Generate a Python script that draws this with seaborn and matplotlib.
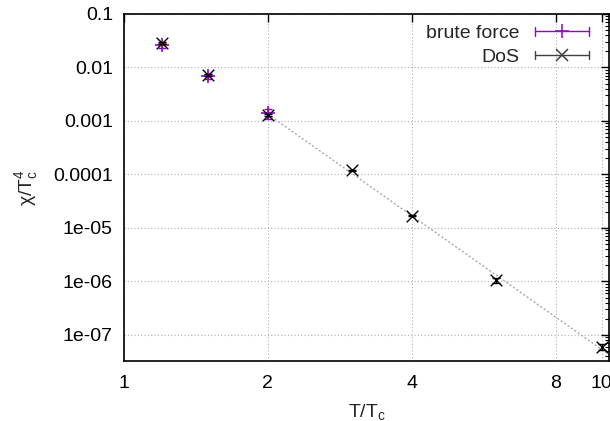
import numpy as np
import pandas as pd
import matplotlib
matplotlib.use("Agg")
import matplotlib.pyplot as plt
import seaborn as sns
from matplotlib.ticker import FixedLocator, NullLocator, LogLocator, FixedFormatter
from matplotlib.lines import Line2D
from matplotlib.legend_handler import HandlerBase

# data
bf_T = [1.2, 1.5, 2.0]
bf_chi = [0.026, 0.0068, 0.00138]
bf_err = [0.003, 0.0008, 0.0003]

dos_T = [1.2, 1.5, 2.0, 3.0, 4.0, 6.0, 10.0]
dos_chi = [0.029, 0.0071, 0.00130, 1.19e-4, 1.70e-5, 1.05e-6, 6.0e-8]
dos_err = [0.001, 0.0003, 0.00006, 4e-6, 6e-7, 1.2e-7, 8e-9]

xticks = [1, 2, 4, 8, 10]
yticks = [1e-7, 1e-6, 1e-5, 1e-4, 1e-3, 1e-2, 1e-1]
ylabels = ["1e-07", "1e-06", "1e-05", "0.0001", "0.001", "0.01", "0.1"]

sns.set_style("white")
plt.rcParams['font.family'] = ['Liberation Sans', 'DejaVu Sans']
plt.rcParams['mathtext.fontset'] = 'custom'
plt.rcParams['mathtext.rm'] = 'Liberation Sans'
plt.rcParams['mathtext.it'] = 'Liberation Sans'

FS = 14
fig = plt.figure(figsize=(6.1, 4.21), dpi=100)
ax = fig.add_axes([124/610, 1 - 361/421, 485/610, 347/421])

purple = '#9400D3'
dosgray = '#404040'

# fit line (power law through DoS points with T >= 2)
dT = np.array(dos_T); dC = np.array(dos_chi)
m = dT >= 2
p = np.polyfit(np.log(dT[m]), np.log(dC[m]), 1)
xf = np.geomspace(2.0, 10.6, 50)
ax.plot(xf, np.exp(np.polyval(p, np.log(xf))), color='#aaaaaa', lw=1.0, ls=(0, (1.5, 1.5)), zorder=1)

ax.errorbar(bf_T, bf_chi, yerr=bf_err, fmt='none', ecolor=purple, elinewidth=1, capsize=3, zorder=2)
ax.errorbar(dos_T, dos_chi, yerr=dos_err, fmt='none', ecolor='black', elinewidth=1, capsize=3, zorder=3)

df_bf = pd.DataFrame({'T': bf_T, 'chi': bf_chi})
df_dos = pd.DataFrame({'T': dos_T, 'chi': dos_chi})
sns.scatterplot(data=df_bf, x='T', y='chi', marker='+', s=90, color=purple, linewidth=1.2, ax=ax, zorder=2)
sns.scatterplot(data=df_dos, x='T', y='chi', marker='x', s=70, color='black', linewidth=1.0, ax=ax, zorder=3)

ax.set_xscale('log', base=2)
ax.set_yscale('log')
ax.set_xlim(1, 10.35)
ax.set_ylim(3.25e-8, 0.1)

ax.xaxis.set_major_locator(FixedLocator(xticks))
ax.xaxis.set_major_formatter(FixedFormatter([str(t) for t in xticks]))
ax.xaxis.set_minor_locator(NullLocator())
ax.yaxis.set_major_locator(FixedLocator(yticks))
ax.yaxis.set_major_formatter(FixedFormatter(ylabels))
ax.yaxis.set_minor_locator(LogLocator(base=10, subs=np.arange(2, 10), numticks=20))

ax.tick_params(which='both', direction='in', top=True, right=True, labelsize=FS, colors='black')
ax.tick_params(which='major', length=6, width=1)
ax.tick_params(which='minor', length=3, width=0.8)
ax.tick_params(axis='x', pad=10)
ax.tick_params(axis='y', pad=8)

ax.grid(True, which='major', color='#b0b0b0', ls=(0, (1, 2)), lw=0.8)
for s in ax.spines.values():
    s.set_color('black'); s.set_linewidth(1.2)

ax.set_xlabel(r'T/T$_\mathrm{c}$', fontsize=FS)
ax.set_ylabel(r'$\chi$/T$_\mathrm{c}^4$', fontsize=FS)
ax.yaxis.set_label_coords(-0.173, 0.5)
ax.xaxis.set_label_coords(0.5, -0.118)


class ErrSample(HandlerBase):
    def __init__(self, color, marker, ms):
        super().__init__()
        self.color = color; self.marker = marker; self.ms = ms

    def create_artists(self, legend, orig_handle, xdescent, ydescent, width, height, fontsize, trans):
        y = height / 2 - ydescent
        x0, x1 = -xdescent, -xdescent + width
        c = 3
        arts = [Line2D([x0, x1], [y, y], color=self.color, lw=1),
                Line2D([x0, x0], [y - c, y + c], color=self.color, lw=1),
                Line2D([x1, x1], [y - c, y + c], color=self.color, lw=1),
                Line2D([(x0 + x1) / 2], [y], color=self.color, marker=self.marker, ms=self.ms, ls='none', mew=1.1)]
        for a in arts:
            a.set_transform(trans)
        return arts


h1 = Line2D([], [], color=purple)
h2 = Line2D([], [], color=dosgray)
ax.legend([h1, h2], ['brute force', 'DoS'], loc='upper right', frameon=False, markerfirst=False,
          handlelength=2.8, handletextpad=0.8, fontsize=FS, borderaxespad=0.0, labelspacing=0.3,
          handler_map={h1: ErrSample(purple, '+', 10), h2: ErrSample(dosgray, 'x', 9)},
          bbox_to_anchor=(597/610, 1 - 16.8/421), bbox_transform=fig.transFigure)

fig.savefig('out.png', dpi=100)
